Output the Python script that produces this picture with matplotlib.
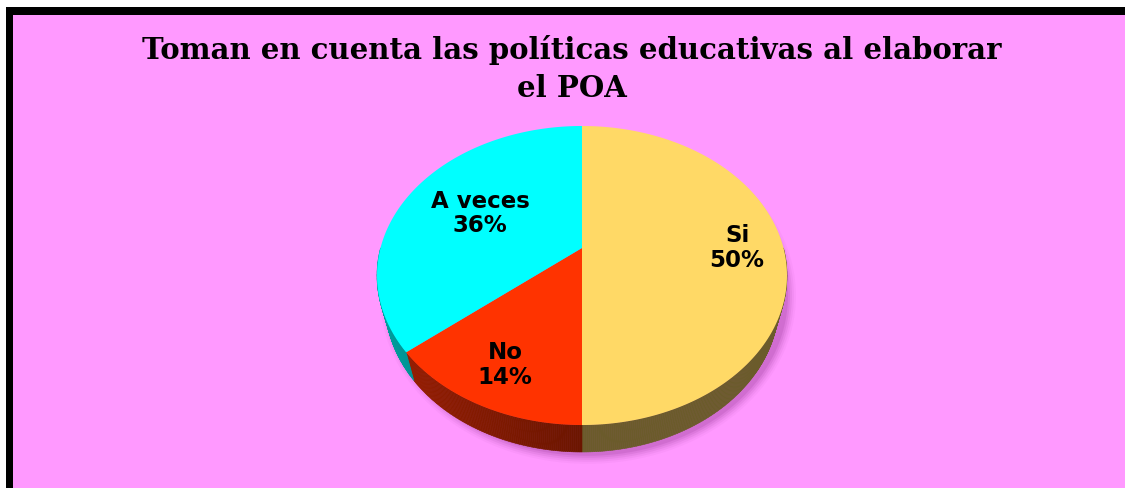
"""3D-style pie: Toman en cuenta las políticas educativas al elaborar el POA."""

import numpy as np
import matplotlib
matplotlib.use("Agg")
import matplotlib.pyplot as plt
from matplotlib.patches import Polygon, Rectangle, Ellipse
from matplotlib.collections import PolyCollection

# --- data -------------------------------------------------------------------
categories = ["Si", "No", "A veces"]
percentages = [50, 14, 36]
slice_colors = ["#FFD966", "#FF3300", "#00FFFF"]
label_radius = [0.77, 0.78, 0.585]  # where Excel put the labels, fraction of radius

title_lines = ["Toman en cuenta las políticas educativas al elaborar", "el POA"]

# --- layout (pixel coordinates, y grows downwards) ---------------------------
W, H = 1125, 488
cx, cy = 582, 248      # where the slices meet
focal = 763.7          # camera set-up that reproduces Excel's perspective
cam_dist = 3.79
elev = np.radians(45.8)
thick = 0.216          # pie thickness, in radius units

fig = plt.figure(figsize=(W / 100, H / 100), dpi=100, facecolor="white")
ax = fig.add_axes([0, 0, 1, 1])
ax.set_xlim(0, W)
ax.set_ylim(H, 0)
ax.axis("off")

# background and frame (the picture is cropped at right and bottom)
ax.add_patch(Rectangle((6, 7), W - 6, H - 7, facecolor="black", edgecolor="none"))
ax.add_patch(Rectangle((13, 15), W - 13, H - 15, facecolor="#FF99FF", edgecolor="none"))


def project(X, Y, Z=0.0):
    d = cam_dist + Y * np.cos(elev) - Z * np.sin(elev)
    u = cx + focal * X / d
    v = cy - focal * (Y * np.sin(elev) + Z * np.cos(elev)) / d
    return u, v


def rim(t_deg, Z=0.0):
    t = np.radians(t_deg)
    return project(np.cos(t), np.sin(t), Z)


# soft shadow under the pie
sx, sy = project(0.02, -0.1, -thick)
for k, a in enumerate([0.05, 0.08, 0.11, 0.15, 0.2]):
    grow = 20 - 4 * k
    ax.add_patch(Ellipse((sx + 2, sy + 4), 2 * 198 + grow, 2 * 158 + grow,
                         facecolor="#A040A0", edgecolor="none", alpha=a))

# slice boundaries: start at 12 o'clock, clockwise
fracs = np.array(percentages, dtype=float) / sum(percentages)
bounds = 90 - 360 * np.concatenate([[0], np.cumsum(fracs)])

# sides first (front half, angles between -180 and 0)
for i, col in enumerate(slice_colors):
    t_start, t_end = bounds[i], bounds[i + 1]
    lo, hi = max(t_end, -180), min(t_start, 0)
    if hi <= lo:
        continue
    ts = np.linspace(hi, lo, int(hi - lo) * 2 + 2)
    base = np.array(matplotlib.colors.to_rgb(col))
    quads, fcs = [], []
    for a, b in zip(ts[:-1], ts[1:]):
        quads.append([rim(a), rim(b), rim(b, -thick), rim(a, -thick)])
        m = np.radians((a + b) / 2)
        f = 0.42 + 0.21 * max(0.0, -np.cos(m))
        fcs.append(tuple(base * f))
    ax.add_collection(PolyCollection(quads, facecolors=fcs, edgecolors=fcs, linewidths=0.4))

# top faces
for i, col in enumerate(slice_colors):
    ts = np.linspace(bounds[i], bounds[i + 1], 200)
    pts = [project(0, 0)] + [rim(t) for t in ts]
    ax.add_patch(Polygon(pts, closed=True, facecolor=col, edgecolor="none"))

# labels
for i, name in enumerate(categories):
    mid = np.radians((bounds[i] + bounds[i + 1]) / 2)
    r = label_radius[i]
    lx, ly = project(r * np.cos(mid), r * np.sin(mid))
    ax.text(lx, ly, f"{name}\n{percentages[i]}%", ha="center", va="center",
            fontsize=16.5, fontweight="bold", family="DejaVu Sans",
            linespacing=1.1, color="black")

# title
ax.text(572, 59, title_lines[0], ha="center", va="baseline", fontsize=21,
        fontweight="bold", family="DejaVu Serif", color="black")
ax.text(572, 97, title_lines[1], ha="center", va="baseline", fontsize=21,
        fontweight="bold", family="DejaVu Serif", color="black")

fig.savefig("out.png", dpi=100, facecolor=fig.get_facecolor())
